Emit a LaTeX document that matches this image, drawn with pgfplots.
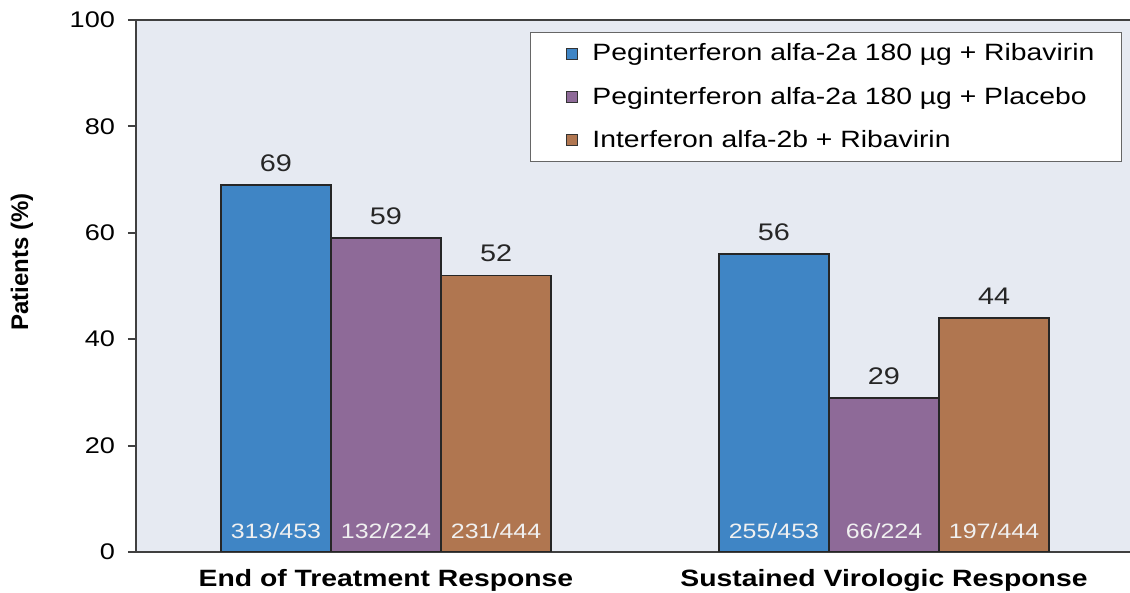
\documentclass[border=0pt]{standalone}
\usepackage{pgfplots}
\pgfplotsset{compat=1.18}
\usepackage{fontspec}
\setmainfont{Liberation Sans}[FakeStretch=1.2]
\newfontfamily\ylfont{Liberation Sans}
\definecolor{bgc}{HTML}{E6EAF2}
\definecolor{cblue}{HTML}{3F85C5}
\definecolor{cpurp}{HTML}{8E6A98}
\definecolor{corng}{HTML}{B07650}
\definecolor{axc}{HTML}{404040}
\begin{document}
\begin{tikzpicture}
\begin{axis}[
  name=ax,
  scale only axis,
  width=497pt, height=266pt,
  xmin=0.498, xmax=2.494,
  ymin=0, ymax=100,
  ytick={0,20,40,60,80,100},
  xtick={1,2},
  xticklabels={End of Treatment Response, Sustained Virologic Response},
  xticklabel style={font=\fontsize{11.8}{13}\selectfont\bfseries, yshift=-1pt},
  x tick style={draw=none},
  yticklabel style={font=\fontsize{11.3}{13}\selectfont, xshift=-3pt},
  /pgf/number format/assume math mode=true,
  tick align=outside,
  y tick style={axc, line width=1pt},
  major tick length=4pt,
  axis background/.style={fill=bgc},
  axis lines*=left,
  axis line style={axc, line width=1.4pt, -},
  ylabel={\ylfont\bfseries Patients (\%)},
  ylabel style={font=\fontsize{12}{14}\selectfont, at={(axis description cs:-0.1147,0.545)}, anchor=center},
  ybar, bar width=0.221,
  legend style={at={(rel axis cs:0.992,0.977)}, anchor=north east,
    draw=gray!80!black, fill=white, line width=0.6pt,
    font=\fontsize{11.8}{13}\selectfont,
    inner xsep=11.5pt, inner ysep=3.5pt, row sep=7.5pt,
    nodes={inner sep=2pt}},
  legend cell align=left,
  legend image code/.code={\path[draw=none, fill=none] (-6.5pt,0) -- (11pt,0); \draw[#1, draw=black!80, line width=0.5pt] (0pt,-2.75pt) rectangle (5.5pt,2.75pt);},
  nodes near coords,
  every node near coord/.append style={font=\fontsize{12}{14}\selectfont, color=black!85, yshift=3pt},
]
\addplot[fill=cblue, draw=black!85, line width=0.8pt, bar shift=0pt] coordinates {(0.779,69) (1.779,56)};
\addlegendentry{Peginterferon alfa-2a 180 µg + Ribavirin}
\addplot[fill=cpurp, draw=black!85, line width=0.8pt, bar shift=0pt] coordinates {(1,59) (2,29)};
\addlegendentry{Peginterferon alfa-2a 180 µg + Placebo}
\addplot[fill=corng, draw=black!85, line width=0.8pt, bar shift=0pt] coordinates {(1.221,52) (2.221,44)};
\addlegendentry{Interferon alfa-2b + Ribavirin}
\addplot[draw=none, fill=none, bar shift=0pt, forget plot, point meta=explicit symbolic,
  every node near coord/.append style={font=\fontsize{10.4}{12}\selectfont, color=white!94!black, anchor=center, yshift=7.5pt}]
  coordinates {(0.779,0)[313/453] (1,0)[132/224] (1.221,0)[231/444] (1.779,0)[255/453] (2,0)[66/224] (2.221,0)[197/444]};
\draw[axc, line width=1.2pt] (rel axis cs:0,1) -- (rel axis cs:1,1);
\end{axis}
\path (ax.south west) ++(-68pt,-20.5pt) coordinate (bl);
\path (ax.north east) ++(0pt,10pt) coordinate (tr);
\pgfresetboundingbox
\useasboundingbox (bl) rectangle (tr);
\end{tikzpicture}
\end{document}
